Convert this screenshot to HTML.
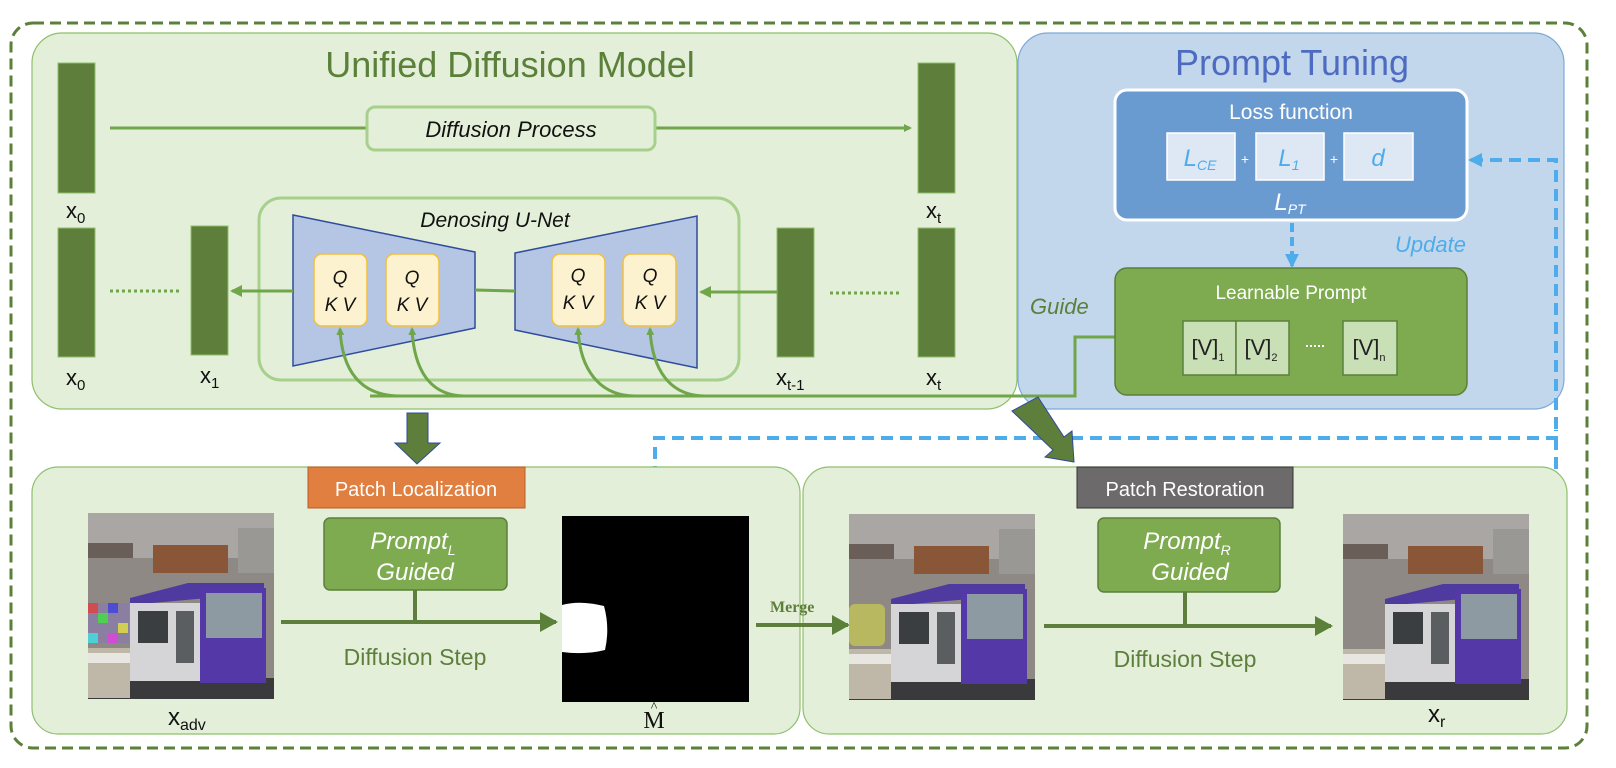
<!DOCTYPE html>
<html><head><meta charset="utf-8"><style>
html,body{margin:0;padding:0;background:#fff;}
svg{display:block;}
.n{font-family:"Liberation Sans Narrow","Liberation Sans",sans-serif;}
</style></head><body>
<svg width="1616" height="768" viewBox="0 0 1616 768" xmlns="http://www.w3.org/2000/svg" class="n">
<defs>
<marker id="ag" markerWidth="8" markerHeight="8" refX="6" refY="4" orient="auto" markerUnits="userSpaceOnUse"><path d="M0,0 L8,4 L0,8 z" fill="#70a64a"/></marker>
<marker id="agl" markerWidth="12" markerHeight="12" refX="10" refY="6" orient="auto" markerUnits="userSpaceOnUse"><path d="M0,0 L12,6 L0,12 z" fill="#70a64a"/></marker>
<marker id="agd" markerWidth="18" markerHeight="20" refX="16" refY="10" orient="auto" markerUnits="userSpaceOnUse"><path d="M0,0 L18,10 L0,20 z" fill="#5b803a"/></marker>
<marker id="ab" markerWidth="14" markerHeight="14" refX="12" refY="7" orient="auto" markerUnits="userSpaceOnUse"><path d="M0,0 L14,7 L0,14 z" fill="#4eacea"/></marker>
<g id="tram">
<rect x="0" y="0" width="186" height="186" fill="#8e8984"/>
<rect x="0" y="0" width="186" height="45" fill="#a9a6a3"/>
<rect x="0" y="30" width="45" height="15" fill="#6a5f58"/>
<rect x="65" y="32" width="75" height="28" fill="#8a5638"/>
<rect x="150" y="15" width="36" height="45" fill="#9a9895"/>
<rect x="0" y="165" width="186" height="21" fill="#3a3a3d"/>
<polygon points="42,85 100,70 176,70 176,80 42,92" fill="#4f3aa0"/>
<rect x="42" y="90" width="75" height="78" fill="#d5d5d8"/>
<rect x="50" y="98" width="30" height="32" fill="#3a3e40"/>
<rect x="88" y="98" width="18" height="52" fill="#5a5e60"/>
<rect x="112" y="75" width="66" height="95" fill="#5538a8"/>
<rect x="118" y="80" width="56" height="45" fill="#8e9aa2"/>
<rect x="0" y="135" width="42" height="50" fill="#bfb7a8"/>
<rect x="0" y="140" width="42" height="10" fill="#e8e6e0"/>
</g>
</defs>

<!-- outer dashed -->
<rect x="11" y="23" width="1576" height="725" rx="22" fill="none" stroke="#5b803a" stroke-width="3" stroke-dasharray="11,6"/>

<!-- Unified Diffusion Model box -->
<rect x="32" y="33" width="985" height="376" rx="30" fill="#e3efd9" stroke="#8fbf6b" stroke-width="1.2"/>
<text x="510" y="77" font-size="36" fill="#5b803a" text-anchor="middle">Unified Diffusion Model</text>

<!-- Prompt tuning box -->
<rect x="1018" y="33" width="546" height="376" rx="30" fill="#c3d7ec" stroke="#7ea9d8" stroke-width="1.2"/>
<text x="1292" y="75" font-size="36" fill="#4d6bc0" text-anchor="middle">Prompt Tuning</text>

<!-- bars -->
<g fill="#5e7f3c" stroke="#8fbf6b" stroke-width="1">
<rect x="58" y="63" width="37" height="130"/>
<rect x="58" y="228" width="37" height="129"/>
<rect x="191" y="226" width="37" height="129"/>
<rect x="777" y="228" width="37" height="129"/>
<rect x="918" y="63" width="37" height="130"/>
<rect x="918" y="228" width="37" height="129"/>
</g>
<g font-size="22" fill="#111">
<text x="66" y="218">x<tspan font-size="15" dy="5">0</tspan></text>
<text x="66" y="385">x<tspan font-size="15" dy="5">0</tspan></text>
<text x="200" y="383">x<tspan font-size="15" dy="5">1</tspan></text>
<text x="776" y="385">x<tspan font-size="15" dy="5">t-1</tspan></text>
<text x="926" y="218">x<tspan font-size="15" dy="5">t</tspan></text>
<text x="926" y="385">x<tspan font-size="15" dy="5">t</tspan></text>
</g>

<!-- Diffusion process -->
<line x1="110" y1="128" x2="910" y2="128" stroke="#70a64a" stroke-width="3" marker-end="url(#ag)"/>
<rect x="367" y="107" width="288" height="43" rx="8" fill="#e3efd9" stroke="#a8d08d" stroke-width="3"/>
<text x="511" y="137" font-size="22" font-style="italic" text-anchor="middle" fill="#111">Diffusion Process</text>

<!-- dotted -->
<line x1="110" y1="291" x2="182" y2="291" stroke="#70a64a" stroke-width="3" stroke-dasharray="3,3"/>
<line x1="830" y1="293" x2="902" y2="293" stroke="#70a64a" stroke-width="3" stroke-dasharray="3,3"/>

<!-- U-Net -->
<rect x="259" y="198" width="480" height="182" rx="22" fill="#e3efd9" stroke="#a8d08d" stroke-width="3"/>
<text x="495" y="227" font-size="21" font-style="italic" text-anchor="middle" fill="#111">Denosing U-Net</text>
<polygon points="293,215 475,252 475,328 293,366" fill="#b4c6e4" stroke="#2f4b9a" stroke-width="1.5"/>
<polygon points="515,253 697,216 697,368 515,330" fill="#b4c6e4" stroke="#2f4b9a" stroke-width="1.5"/>
<line x1="475" y1="290" x2="515" y2="291" stroke="#70a64a" stroke-width="3"/>
<line x1="293" y1="291" x2="232" y2="291" stroke="#70a64a" stroke-width="3" marker-end="url(#agl)"/>
<line x1="777" y1="292" x2="701" y2="292" stroke="#70a64a" stroke-width="3" marker-end="url(#agl)"/>
<g fill="#fdf2d0" stroke="#f3bf3d" stroke-width="1.5">
<rect x="314" y="254" width="53" height="72" rx="8"/>
<rect x="386" y="254" width="53" height="72" rx="8"/>
<rect x="552" y="254" width="53" height="72" rx="8"/>
<rect x="623" y="254" width="53" height="72" rx="8"/>
</g>
<g font-size="19" font-style="italic" text-anchor="middle" fill="#111">
<text x="340" y="284">Q</text><text x="340" y="311">K V</text>
<text x="412" y="284">Q</text><text x="412" y="311">K V</text>
<text x="578" y="282">Q</text><text x="578" y="309">K V</text>
<text x="650" y="282">Q</text><text x="650" y="309">K V</text>
</g>

<!-- guide line + curves -->
<g fill="none" stroke="#70a64a" stroke-width="3">
<path d="M1115,337 L1075,337 L1075,396 L370,396"/>
<path d="M400,396 C360,396 342,370 340,329" marker-end="url(#ag)"/>
<path d="M465,396 C430,396 414,370 412,329" marker-end="url(#ag)"/>
<path d="M635,396 C600,396 580,370 578,329" marker-end="url(#ag)"/>
<path d="M705,396 C670,396 652,370 650,329" marker-end="url(#ag)"/>
</g>
<text x="1030" y="314" font-size="22" font-style="italic" fill="#5b803a">Guide</text>

<!-- Loss function -->
<rect x="1115" y="90" width="352" height="130" rx="12" fill="#6a9bd0" stroke="#fff" stroke-width="3"/>
<text x="1291" y="119" font-size="21" fill="#fff" text-anchor="middle">Loss function</text>
<g fill="#dde8f4" stroke="#fff" stroke-width="1.5">
<rect x="1167" y="133" width="68" height="47"/>
<rect x="1256" y="133" width="68" height="47"/>
<rect x="1344" y="133" width="69" height="47"/>
</g>
<g font-style="italic" fill="#4eacea" text-anchor="middle">
<text x="1200" y="166" font-size="24">L<tspan font-size="14" dy="4">CE</tspan></text>
<text x="1289" y="166" font-size="24">L<tspan font-size="14" dy="4">1</tspan></text>
<text x="1378" y="166" font-size="24">d</text>
</g>
<text x="1245" y="164" font-size="14" fill="#fff" text-anchor="middle">+</text>
<text x="1334" y="164" font-size="14" fill="#fff" text-anchor="middle">+</text>
<text x="1290" y="210" font-size="24" font-style="italic" fill="#fff" text-anchor="middle">L<tspan font-size="14" dy="4">PT</tspan></text>
<line x1="1292" y1="223" x2="1292" y2="266" stroke="#4eacea" stroke-width="4" stroke-dasharray="9,5" marker-end="url(#ab)"/>
<text x="1395" y="252" font-size="22" font-style="italic" fill="#4eacea">Update</text>

<!-- Learnable prompt -->
<rect x="1115" y="268" width="352" height="127" rx="12" fill="#7eab50" stroke="#5b803a" stroke-width="1.5"/>
<text x="1291" y="299" font-size="19" fill="#fff" text-anchor="middle">Learnable Prompt</text>
<g fill="#c9dfb5" stroke="#5b803a" stroke-width="1.5">
<rect x="1183" y="321" width="53" height="54"/>
<rect x="1236" y="321" width="53" height="54"/>
<rect x="1343" y="321" width="54" height="54"/>
</g>
<g font-size="22" fill="#222" text-anchor="middle">
<text x="1208" y="355">[V]<tspan font-size="11" dy="6">1</tspan></text>
<text x="1261" y="355">[V]<tspan font-size="11" dy="6">2</tspan></text>
<text x="1369" y="355">[V]<tspan font-size="11" dy="6">n</tspan></text>
</g>
<line x1="1306" y1="346" x2="1326" y2="346" stroke="#fff" stroke-width="2" stroke-dasharray="2,2"/>

<!-- blue dashed update loop -->
<path d="M655,516 L655,438 L1556,438 L1556,160 L1470,160" fill="none" stroke="#4eacea" stroke-width="4" stroke-dasharray="12,7" marker-end="url(#ab)"/>
<path d="M1529,613 L1556,613 L1556,430" fill="none" stroke="#4eacea" stroke-width="4" stroke-dasharray="12,7"/>

<!-- bottom boxes -->
<rect x="32" y="467" width="768" height="267" rx="26" fill="#e3efd9" stroke="#8fbf6b" stroke-width="1.2"/>
<rect x="803" y="467" width="764" height="267" rx="26" fill="#e3efd9" stroke="#8fbf6b" stroke-width="1.2"/>

<!-- big arrows -->
<polygon points="407,413 428,413 428,443 440,443 417,464 395,443 407,443" fill="#5e7f3c" stroke="#2f4b9a" stroke-width="1"/>
<polygon points="1012,411 1038,397 1064,437 1072,431 1074,462 1045,457 1053,450" fill="#5e7f3c" stroke="#2f4b9a" stroke-width="1"/>

<!-- Patch Localization -->
<rect x="308" y="467" width="217" height="41" fill="#e07f3f" stroke="#b85e28" stroke-width="1"/>
<text x="416" y="496" font-size="20" fill="#fff" text-anchor="middle">Patch Localization</text>
<rect x="324" y="518" width="183" height="72" rx="6" fill="#7eab50" stroke="#5b803a" stroke-width="1.5"/>
<text x="413" y="549" font-size="24" font-style="italic" fill="#fff" text-anchor="middle">Prompt<tspan font-size="14" dy="6">L</tspan></text>
<text x="415" y="580" font-size="24" font-style="italic" fill="#fff" text-anchor="middle">Guided</text>
<line x1="415" y1="590" x2="415" y2="622" stroke="#5e7f3c" stroke-width="4"/>
<line x1="281" y1="622" x2="556" y2="622" stroke="#5e7f3c" stroke-width="4" marker-end="url(#agd)"/>
<text x="415" y="665" font-size="23" fill="#5e7f3c" text-anchor="middle">Diffusion Step</text>

<use href="#tram" x="88" y="513"/>
<rect x="88" y="603" width="41" height="40" fill="#8a7fa0"/>
<g opacity="0.85">
<rect x="88" y="603" width="10" height="10" fill="#d44"/><rect x="98" y="613" width="10" height="10" fill="#4d4"/><rect x="108" y="603" width="10" height="10" fill="#44d"/><rect x="118" y="623" width="10" height="10" fill="#dd4"/><rect x="88" y="633" width="10" height="10" fill="#4dd"/><rect x="108" y="633" width="10" height="10" fill="#d4d"/>
</g>
<text x="168" y="725" font-size="24" fill="#111">x<tspan font-size="16" dy="5">adv</tspan></text>

<rect x="562" y="516" width="187" height="186" fill="#000"/>
<path d="M562,605 Q580,600 604,606 Q610,628 605,650 Q585,655 562,652 z" fill="#fff"/>
<text x="654" y="728" font-size="24" font-family="Liberation Serif, serif" fill="#111" text-anchor="middle">M</text>
<text x="654" y="711" font-size="14" font-family="Liberation Serif, serif" fill="#111" text-anchor="middle">^</text>

<text x="770" y="612" font-size="16" font-weight="bold" font-family="Liberation Serif, serif" fill="#5e7f3c">Merge</text>
<line x1="756" y1="625" x2="848" y2="625" stroke="#5e7f3c" stroke-width="4" marker-end="url(#agd)"/>

<!-- Patch Restoration -->
<rect x="1077" y="467" width="216" height="41" fill="#6c6a6a" stroke="#333" stroke-width="1"/>
<text x="1185" y="496" font-size="20" fill="#fff" text-anchor="middle">Patch Restoration</text>
<rect x="1098" y="518" width="182" height="74" rx="6" fill="#7eab50" stroke="#5b803a" stroke-width="1.5"/>
<text x="1187" y="549" font-size="24" font-style="italic" fill="#fff" text-anchor="middle">Prompt<tspan font-size="14" dy="6">R</tspan></text>
<text x="1190" y="580" font-size="24" font-style="italic" fill="#fff" text-anchor="middle">Guided</text>
<line x1="1185" y1="592" x2="1185" y2="626" stroke="#5e7f3c" stroke-width="4"/>
<line x1="1044" y1="626" x2="1331" y2="626" stroke="#5e7f3c" stroke-width="4" marker-end="url(#agd)"/>
<text x="1185" y="667" font-size="23" fill="#5e7f3c" text-anchor="middle">Diffusion Step</text>

<use href="#tram" x="849" y="514"/>
<rect x="849" y="604" width="36" height="42" rx="6" fill="#b8b860"/>
<use href="#tram" x="1343" y="514"/>
<text x="1428" y="722" font-size="24" fill="#111">x<tspan font-size="16" dy="5">r</tspan></text>
</svg>
</body></html>
